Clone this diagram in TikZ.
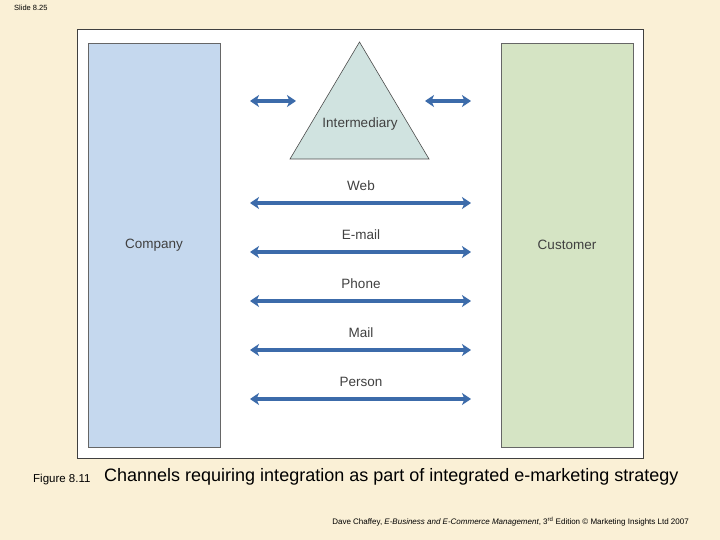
\documentclass[tikz,border=0pt]{standalone}
\usepackage{fontspec}
\setmainfont{Liberation Sans}
\usetikzlibrary{arrows.meta}
\definecolor{bgc}{HTML}{FAF0D6}
\definecolor{compc}{HTML}{C5D8EE}
\definecolor{custc}{HTML}{D5E4C4}
\definecolor{tric}{HTML}{D0E3E0}
\definecolor{arrc}{HTML}{3C6BAA}
\definecolor{txtc}{HTML}{404040}
\tikzset{
  biarrow/.style={arrc, line width=3.2pt, {Stealth[width=12pt,length=9pt,inset=2.5pt]}-{Stealth[width=12pt,length=9pt,inset=2.5pt]}},
  lbl/.style={font=\fontsize{13.5}{15}\selectfont, text=txtc, inner sep=0pt},
  panel/.style={draw=gray!80!black, line width=0.8pt}
}
\begin{document}
\begin{tikzpicture}[x=1pt,y=-1pt]
\fill[bgc] (0,0) rectangle (720,540);
\useasboundingbox (0,0) rectangle (720,540);
\node[anchor=west, inner sep=0pt, font=\fontsize{7.5}{8}\selectfont] (slide) at (14,8) {Slide 8.25};
\draw[fill=white, draw=black!75, line width=1pt] (77,30) rectangle (643,458);
\draw[panel, fill=compc] (88,43) rectangle (220,447);
\draw[black!60, line width=1pt] (88,447) -- (220,447) -- (220,43);
\draw[panel, fill=custc] (501,43) rectangle (633,447);
\draw[black!60, line width=1pt] (501,447) -- (633,447) -- (633,43);
\node[lbl] (company) at (154,245) {Company};
\node[lbl] (customer) at (567,245) {Customer};
\draw[draw=black!70, line width=0.6pt, fill=tric] (359.5,42) -- (429,159) -- (290,159) -- cycle;
\node[lbl] (inter) at (360,124) {Intermediary};
\coordinate (la) at (250,101);
\coordinate (lb) at (296,101);
\coordinate (ra) at (425,101);
\coordinate (rb) at (471,101);
\draw[biarrow] (la) -- (lb);
\draw[biarrow] (ra) -- (rb);
\foreach \name/\txt/\y in {web/Web/203, email/E-mail/252, phone/Phone/301, mail/Mail/350, person/Person/399}{
  \node[lbl] (\name) at (361,\y-17) {\txt};
  \coordinate (\name L) at (250,\y);
  \coordinate (\name R) at (471,\y);
  \draw[biarrow] (\name L) -- (\name R);
}
\node[anchor=west, inner sep=0pt, font=\fontsize{11.5}{13}\selectfont] (fig) at (33,479.5) {Figure 8.11};
\node[anchor=west, inner sep=0pt, font=\fontsize{18}{20}\selectfont] (cap) at (104,477) {Channels requiring integration as part of integrated e-marketing strategy};
\node[anchor=east, inner sep=0pt, font=\fontsize{8}{9}\selectfont] (foot) at (689,522) {Dave Chaffey, \textit{E-Business and E-Commerce Management}, 3\textsuperscript{rd} Edition © Marketing Insights Ltd 2007};
\end{tikzpicture}
\end{document}
